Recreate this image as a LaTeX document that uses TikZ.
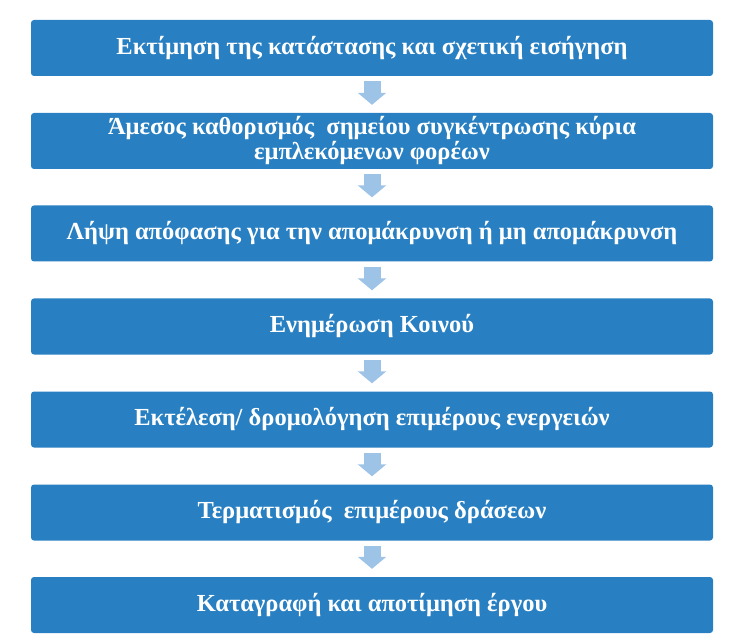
\documentclass[tikz,border=0pt]{standalone}
\usepackage{fontspec}
\setmainfont{Liberation Serif}
\usepackage{xcolor}
\usepackage{tikz}
\usetikzlibrary{positioning,%
  arrows.meta,%
  calc%
}
\definecolor{stepblue}{RGB}{40,128,194}
\definecolor{arrowblue}{RGB}{157,195,230}
\tikzset{
  stage/.style={rectangle, rounded corners=3pt, fill=stepblue, text=white,
    minimum width=682pt, minimum height=56pt, align=center, inner sep=0pt,
    font=\fontsize{24.5}{25}\selectfont\bfseries},
  flowarrow/.style={draw=arrowblue, line width=17pt,
    -{Triangle[width=28pt,length=12pt]}, shorten <=5pt, shorten >=8pt}
}

\begin{document}
\begin{tikzpicture}[x=1pt,y=-1pt]
            \useasboundingbox (0,0) rectangle (739,644);

            \node [stage] (s1) at (372,48) {Εκτίμηση της κατάστασης και σχετική εισήγηση};
            \node [stage] (s2) at (372,141) {Άμεσος καθορισμός~ σημείου συγκέντρωσης κύρια\\εμπλεκόμενων φορέων};
            \node [stage] (s3) at (372,233.5) {Λήψη απόφασης για την απομάκρυνση ή μη απομάκρυνση};
            \node [stage] (s4) at (372,326.5) {Ενημέρωση Κοινού};
            \node [stage] (s5) at (372,419.5) {Εκτέλεση/ δρομολόγηση επιμέρους ενεργειών};
            \node [stage] (s6) at (372,512.5) {Τερματισμός~ επιμέρους δράσεων};
            \node [stage] (s7) at (372,605) {Καταγραφή και αποτίμηση έργου};

            \foreach \a/\b in {s1/s2,s2/s3,s3/s4,s4/s5,s5/s6,s6/s7}
              \draw [flowarrow] (\a) -- (\b);
        \end{tikzpicture}
\end{document}
